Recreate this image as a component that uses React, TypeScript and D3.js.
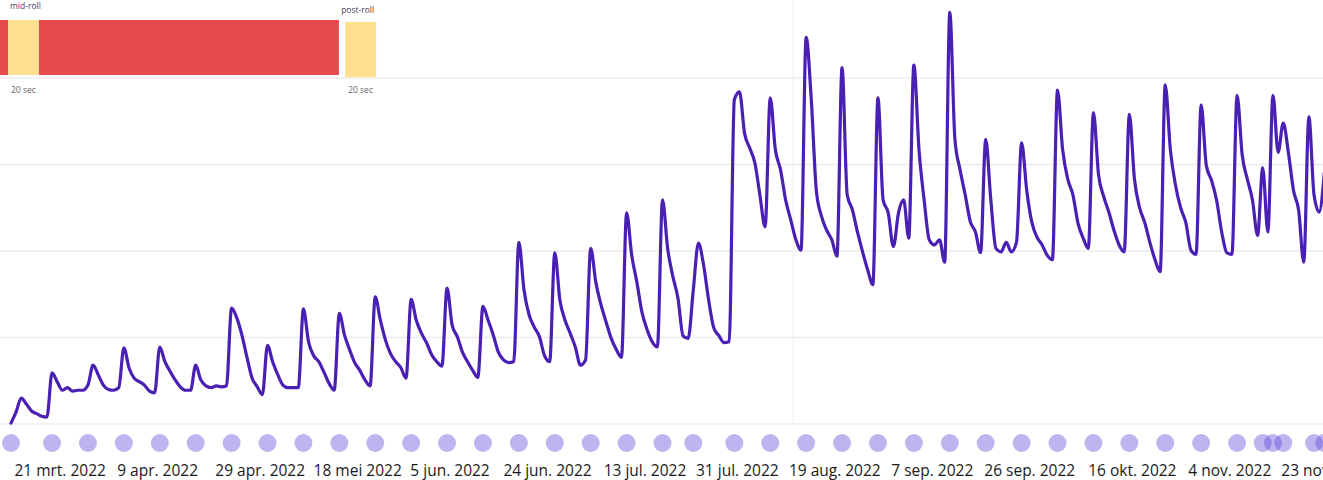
import React from 'react';
import * as d3 from 'd3';

const START = '2022-03-12';
const END = '2022-11-23';

// daily plays, one value per day starting at START
const dailyPlays: number[] = [
  1, 14, 30, 23, 15, 12, 9, 8, 59, 49, 39, 42, 38, 39, 39, 45, 68, 57, 45, 40,
  39, 42, 88, 65, 53, 49, 45, 38, 36, 89, 72, 61, 51, 43, 39, 39, 68, 51, 44, 42,
  44, 43, 44, 134, 123, 103, 77, 53, 43, 34, 91, 72, 57, 45, 42, 42, 42, 133, 95, 79,
  72, 60, 47, 39, 128, 103, 86, 71, 62, 51, 44, 147, 120, 97, 81, 72, 65, 53, 144, 120,
  105, 94, 80, 72, 67, 157, 114, 101, 83, 72, 62, 54, 136, 120, 103, 83, 74, 71, 72, 210,
  155, 126, 112, 101, 79, 72, 198, 143, 120, 105, 89, 68, 74, 203, 164, 138, 118, 99, 86, 77,
  244, 195, 164, 129, 109, 95, 89, 259, 203, 171, 146, 102, 99, 155, 209, 184, 143, 111, 102, 94,
  95, 375, 384, 336, 319, 302, 264, 228, 377, 317, 294, 259, 236, 213, 201, 447, 375, 269, 240, 224,
  213, 194, 412, 265, 248, 222, 199, 178, 161, 377, 259, 244, 205, 244, 259, 215, 415, 317, 259, 213,
  207, 213, 187, 476, 329, 294, 265, 234, 222, 198, 329, 259, 203, 199, 210, 199, 210, 325, 270, 233,
  216, 207, 195, 190, 386, 317, 283, 265, 232, 215, 203, 360, 288, 263, 245, 224, 207, 199, 358, 283,
  250, 233, 210, 190, 176, 392, 317, 276, 250, 233, 201, 196, 369, 299, 282, 259, 222, 198, 196, 380,
  311, 283, 259, 218, 296, 222, 380, 314, 348, 314, 270, 247, 187, 355, 265, 245, 290,
];

// episode release markers
const episodeDates: string[] = [
  '2022-03-12', '2022-03-20', '2022-03-27', '2022-04-03', '2022-04-10', '2022-04-17',
  '2022-04-24', '2022-05-01', '2022-05-08', '2022-05-15', '2022-05-22', '2022-05-29',
  '2022-06-05', '2022-06-12', '2022-06-19', '2022-06-26', '2022-07-03', '2022-07-10',
  '2022-07-17', '2022-07-23', '2022-07-31', '2022-08-07', '2022-08-14', '2022-08-21',
  '2022-08-28', '2022-09-04', '2022-09-11', '2022-09-18', '2022-09-25', '2022-10-02',
  '2022-10-09', '2022-10-16', '2022-10-23', '2022-10-30', '2022-11-06', '2022-11-11',
  '2022-11-13', '2022-11-15', '2022-11-21', '2022-11-23',
];

const tickDates: string[] = [
  '2022-03-21', '2022-04-09', '2022-04-29', '2022-05-18', '2022-06-05', '2022-06-24',
  '2022-07-13', '2022-07-31', '2022-08-19', '2022-09-07', '2022-09-26', '2022-10-16',
  '2022-11-04', '2022-11-23',
];
const tickLabels: string[] = [
  '21 mrt. 2022', '9 apr. 2022', '29 apr. 2022', '18 mei 2022', '5 jun. 2022', '24 jun. 2022',
  '13 jul. 2022', '31 jul. 2022', '19 aug. 2022', '7 sep. 2022', '26 sep. 2022', '16 okt. 2022',
  '4 nov. 2022', '23 nov. 2022',
];

const gridValues: number[] = [0, 100, 200, 300, 400];
const markerDate = '2022-08-11T12:00:00Z';

// ad-break timeline (seconds)
const adTypes: string[] = ['content', 'ad', 'content', 'ad'];
const adStarts: number[] = [-10, 0, 20, 217.5];
const adEnds: number[] = [0, 20, 213.5, 237.5];
const adNames: string[] = ['', 'mid-roll', '', 'post-roll'];
const adDurations: string[] = ['', '20 sec', '', '20 sec'];

const W = 1323;
const H = 480;

export default function App() {
  const start = new Date(START);
  const x = d3.scaleUtc().domain([start, new Date(END)]).range([11, 11 + 256 * 5.13]);
  const y = d3.scaleLinear().domain([0, 400]).range([424, 78]);
  const adX = d3.scaleLinear().domain([0, 20]).range([8, 39]);

  const line = d3
    .line<number>()
    .x((_, i) => x(d3.utcDay.offset(start, i)))
    .y((v) => y(v))
    .curve(d3.curveMonotoneX);

  const font = '"Open Sans", "Noto Sans", sans-serif';

  return (
    <svg
      width={W}
      height={H}
      style={{ position: 'absolute', left: 0, top: 0, background: '#fff' }}
      fontFamily={font}
    >
      <rect x={0} y={0} width={W} height={H} fill="#fff" />
      {gridValues.map((g) => (
        <line key={g} x1={0} x2={W} y1={y(g)} y2={y(g)} stroke="#ececec" strokeWidth={1.3} />
      ))}
      <line
        x1={x(new Date(markerDate))}
        x2={x(new Date(markerDate))}
        y1={0}
        y2={y(0)}
        stroke="#f0f0f0"
        strokeWidth={1.2}
      />

      {/* ad timeline */}
      {adTypes.map((t, i) => (
        <g key={i}>
          <rect
            x={adX(adStarts[i])}
            y={t === 'ad' && i === 3 ? 22 : 20}
            width={adX(adEnds[i]) - adX(adStarts[i])}
            height={55}
            fill={t === 'ad' ? '#FEE08E' : '#E5484D'}
          />
          {adNames[i] && (
            <text x={adX(adStarts[i]) + (i === 3 ? -4 : 2)} y={9} dy={i === 3 ? 4 : 0} fontSize={8.5} fill="#3f3f5e">
              {adNames[i]}
            </text>
          )}
          {adDurations[i] && (
            <text x={adX(adStarts[i]) + 3} y={93} fontSize={8.5} fill="#666">
              {adDurations[i]}
            </text>
          )}
        </g>
      ))}

      <path
        d={line(dailyPlays) || ''}
        fill="none"
        stroke="#4A1FB3"
        strokeWidth={3.2}
        strokeLinejoin="round"
        strokeLinecap="round"
      />

      {episodeDates.map((d, i) => (
        <circle key={i} cx={x(new Date(d))} cy={443} r={9} fill="#6043DA" fillOpacity={0.4} />
      ))}

      {tickDates.map((d, i) => (
        <text
          key={d}
          x={x(new Date(d)) + 3}
          y={476}
          textAnchor="middle"
          fontSize={15.5}
          fill="#1a1a1a"
        >
          {tickLabels[i]}
        </text>
      ))}
    </svg>
  );
}
